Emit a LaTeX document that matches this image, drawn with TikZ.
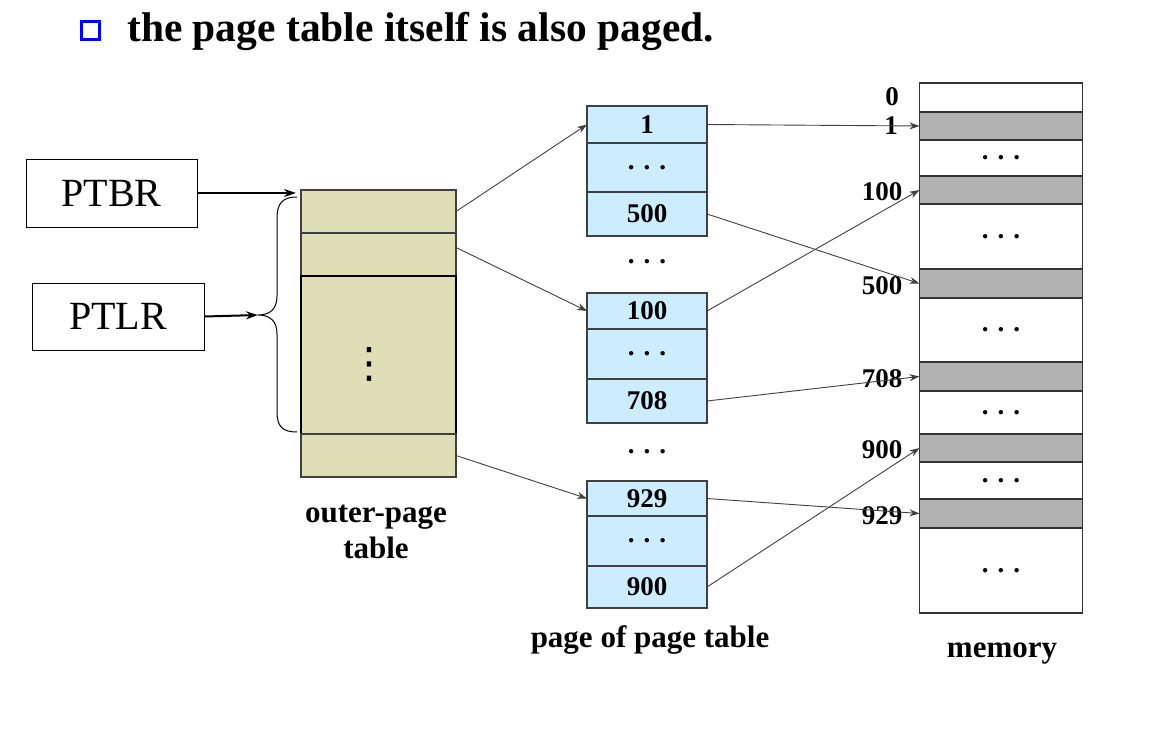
\documentclass[tikz,border=0pt]{standalone}
\usepackage{fontspec}
\setmainfont{Liberation Serif}
\newfontfamily\symfont{DejaVu Sans}
\usetikzlibrary{positioning,arrows.meta}
\definecolor{outerfill}{RGB}{222,223,183}
\definecolor{pagefill}{RGB}{204,236,255}
\definecolor{memgray}{RGB}{178,178,178}
\definecolor{bulletblue}{RGB}{0,0,255}

\begin{document}
\begin{tikzpicture}[x=1pt, y=-1pt,
  reg/.style={draw, line width=1pt, minimum width=171pt, minimum height=68pt, inner sep=0pt, font=\fontsize{40}{48}\selectfont},
  outrow/.style={draw=black!75, line width=1.3pt, fill=outerfill, minimum width=155pt, inner sep=0pt, outer sep=0pt},
  pagerow/.style={draw=black!75, line width=1.3pt, fill=pagefill, minimum width=120pt, inner sep=0pt, outer sep=0pt, font=\bfseries\fontsize{27}{32}\selectfont},
  memrow/.style={draw=black!80, line width=1.3pt, minimum width=163pt, inner sep=0pt, outer sep=0pt, font=\bfseries\fontsize{27}{32}\selectfont},
  addr/.style={font=\bfseries\fontsize{27}{32}\selectfont, inner sep=0pt},
  caption/.style={font=\bfseries\fontsize{31}{36}\selectfont, align=center, inner sep=0pt},
  ptr/.style={-{Stealth[length=10pt, width=7pt]}, draw=black!75, line width=0.9pt},
  regptr/.style={-{Stealth[length=12pt, width=8pt]}, line width=2pt}]
\useasboundingbox (0,0) rectangle (1165,737);

% title
\node[draw=bulletblue, line width=3pt, fill=white, minimum size=18pt, inner sep=0pt] (bullet) at (90,30) {};
\node[anchor=base west, inner sep=0pt, font=\bfseries\fontsize{41.5}{48}\selectfont] (title) at (127,41) {the page table itself is also paged.};

% registers
\node[reg] (ptbr) at (111.5,193) {PTBR};
\node[reg, minimum width=172pt, minimum height=67pt] (ptlr) at (118,316.5) {PTLR};

% outer-page table
\node[outrow, minimum height=43pt] (o1) at (378.5,211.5) {};
\node[outrow, minimum height=43pt, below=0pt of o1] (o2) {};
\node[outrow, draw=black, minimum height=158pt, below=0pt of o2] (omid) {};
\node[outrow, minimum height=43pt, below=0pt of omid] (olast) {};
\node[font=\symfont\fontsize{42}{48}\selectfont, inner sep=0pt] (odots) at (369,364) {⋮};

% brace in front of the outer-page table
\coordinate (bhead) at (296,193);
\coordinate (btop) at (297,197);
\coordinate (btip) at (258,315);
\coordinate (bbot) at (297,432);
\draw[line width=1pt] (btop) .. controls (283,197) and (277,203) .. (277,218) -- (277,296)
  .. controls (277,309) and (270,315) .. (btip) .. controls (270,315) and (277,321) .. (277,334)
  -- (277,412) .. controls (277,427) and (283,432) .. (bbot);

% pages of the page table
\node[pagerow, minimum height=37pt] (pa1) at (647,124.5) {1};
\node[pagerow, minimum height=49pt, below=0pt of pa1] (pa2) {. . .};
\node[pagerow, minimum height=44pt, below=0pt of pa2] (pa3) {500};
\node[addr] (gap1) at (647,262) {. . .};
\node[pagerow, minimum height=36pt] (pb1) at (647,311) {100};
\node[pagerow, minimum height=50pt, below=0pt of pb1] (pb2) {. . .};
\node[pagerow, minimum height=44pt, below=0pt of pb2] (pb3) {708};
\node[addr] (gap2) at (647,452) {. . .};
\node[pagerow, minimum height=35pt] (pc1) at (647,498.5) {929};
\node[pagerow, minimum height=50pt, below=0pt of pc1] (pc2) {. . .};
\node[pagerow, minimum height=42pt, below=0pt of pc2] (pc3) {900};

% memory
\coordinate (memtop) at (1001,83);
\foreach \n/\h/\c/\t [remember=\n as \p (initially memtop)] in
  {m0/29/white/{}, m1/28/memgray/{}, md1/36/white/{. . .}, m100/28/memgray/{},
   md2/65/white/{. . .}, m500/29/memgray/{}, md3/64/white/{. . .}, m708/29/memgray/{},
   md4/43/white/{. . .}, m900/28/memgray/{}, md5/37/white/{. . .}, m929/29/memgray/{},
   md6/85/white/{. . .}}
  \node[memrow, fill=\c, minimum height=\h pt, below=0pt of \p] (\n) {\t};

% frame addresses
\node[addr] (a0) at (892,97) {0};
\node[addr] (a1) at (891,126) {1};
\node[addr, left=17pt of m100.west, yshift=-2pt] (a100) {100};
\node[addr, left=17pt of m500.west, yshift=-2pt] (a500) {500};
\node[addr, left=17pt of m708.west, yshift=-2pt] (a708) {708};
\node[addr, left=17pt of m900.west, yshift=-2pt] (a900) {900};
\node[addr, left=17pt of m929.west, yshift=-2pt] (a929) {929};

% captions
\node[caption, anchor=base] (outcap) at (376,558) {outer-page\\table};
\node[caption, anchor=base] (pagecap) at (650,647) {page of page table};
\node[caption, anchor=base] (memcap) at (1002,657) {memory};

% pointers
\draw[regptr] (ptbr.east) -- (bhead);
\draw[regptr] (ptlr.east) -- (btip);
\draw[ptr] (o1.east) -- (pa1.west);
\draw[ptr] ([yshift=7pt]o2.east) -- (pb1.west);
\draw[ptr] (olast.east) -- (pc1.west);
\draw[ptr] (pa1.east) -- (m1.west);
\draw[ptr] (pa3.east) -- (m500.west);
\draw[ptr] (pb1.east) -- (m100.west);
\draw[ptr] (pb3.east) -- (m708.west);
\draw[ptr] (pc1.east) -- (m929.west);
\draw[ptr] (pc3.east) -- (m900.west);
\end{tikzpicture}
\end{document}
